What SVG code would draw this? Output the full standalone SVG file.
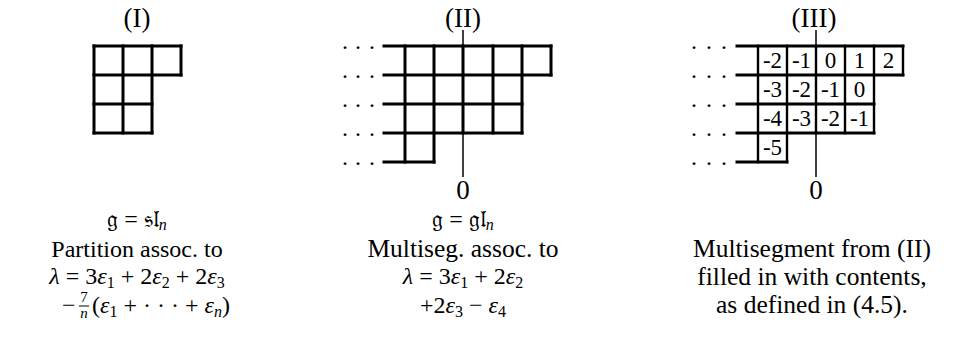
<svg xmlns="http://www.w3.org/2000/svg" width="963" height="348" viewBox="0 0 963 348">
<style>
.g{stroke:#000;stroke-width:3;stroke-linecap:square;fill:none}
.v3{stroke-width:2.4}
.axis{stroke:#000;stroke-width:1.5;fill:none}
.t{font-family:"Liberation Serif","DejaVu Serif",serif;font-size:24px;fill:#000}
.w{font-size:25.5px}
.h{font-size:27px}
.mid{text-anchor:middle}
.i{font-style:italic}
.s{font-size:16px}
.f{font-size:15px}
.c{font-family:"Liberation Serif",serif;font-size:23px;text-anchor:middle;fill:#000}
.d{font-family:"Liberation Serif",serif;font-size:24px;fill:#000}
</style>
<rect width="963" height="348" fill="#fff"/>

<g id="panel-1">
<text class="t h mid" x="137" y="27">(I)</text>
<g class="g">
<path d="M94 46H181M94 75H181M94 104H152M94 133H152"/>
<path d="M94 46V133M123 46V133M152 46V133M181 46V75"/>
</g>
<text class="t mid" x="137" y="227">𝔤 = 𝔰𝔩<tspan class="i s" dy="3">n</tspan></text>
<text class="t mid" x="137" y="257">Partition assoc. to</text>
<text class="t mid" x="137" y="284"><tspan class="i">λ</tspan> = 3<tspan class="i">ε</tspan><tspan class="s" dy="4">1</tspan><tspan dy="-4"> + 2</tspan><tspan class="i">ε</tspan><tspan class="s" dy="4">2</tspan><tspan dy="-4"> + 2</tspan><tspan class="i">ε</tspan><tspan class="s" dy="4">3</tspan></text>
<text class="t" x="62" y="313">−</text>
<text class="t f mid" x="84" y="302">7</text>
<line x1="79" y1="306" x2="89" y2="306" stroke="#000" stroke-width="1"/>
<text class="t f mid i" x="84" y="318">n</text>
<text class="t" x="92" y="313">(<tspan class="i">ε</tspan><tspan class="s" dy="4">1</tspan><tspan dy="-4"> + · · · + </tspan><tspan class="i">ε</tspan><tspan class="s i" dy="4">n</tspan><tspan dy="-4">)</tspan></text>
</g>

<g id="panel-2">
<text class="t h mid" x="463" y="27">(II)</text>
<line class="axis" x1="463" y1="30" x2="463" y2="177"/>
<g class="g">
<path d="M384 46H551M384 75H551M384 104H522M384 133H522M384 162H434"/>
<path d="M405 46V162M434 46V162M463 46V133M493 46V133M522 46V133M551 46V75"/>
</g>
<text class="d" x="341 354 368" y="55">···</text>
<text class="d" x="341 354 368" y="84">···</text>
<text class="d" x="341 354 368" y="113">···</text>
<text class="d" x="341 354 368" y="142">···</text>
<text class="d" x="341 354 368" y="171">···</text>
<text class="t h mid" x="463" y="199">0</text>
<text class="t mid" x="463" y="227">𝔤 = 𝔤𝔩<tspan class="i s" dy="3">n</tspan></text>
<text class="t w mid" x="463" y="257">Multiseg. assoc. to</text>
<text class="t mid" x="463" y="284"><tspan class="i">λ</tspan> = 3<tspan class="i">ε</tspan><tspan class="s" dy="4">1</tspan><tspan dy="-4"> + 2</tspan><tspan class="i">ε</tspan><tspan class="s" dy="4">2</tspan></text>
<text class="t mid" x="463" y="313">+2<tspan class="i">ε</tspan><tspan class="s" dy="4">3</tspan><tspan dy="-4"> − </tspan><tspan class="i">ε</tspan><tspan class="s" dy="4">4</tspan></text>
</g>

<g id="panel-3">
<text class="t h mid" x="814" y="27">(III)</text>
<line class="axis" x1="816" y1="30" x2="816" y2="177"/>
<g class="g">
<path d="M737 46H903M737 75H903M737 104H874M737 133H874M737 162H787"/>
</g>
<g class="g v3">
<path d="M758 46V162M787 46V162M816 46V133M845 46V133M874 46V133M903 46V75"/>
</g>
<text class="d" x="690 705 720" y="55">···</text>
<text class="d" x="690 705 720" y="84">···</text>
<text class="d" x="690 705 720" y="113">···</text>
<text class="d" x="690 705 720" y="142">···</text>
<text class="d" x="690 705 720" y="171">···</text>
<text class="c" x="772.5" y="68">-2</text>
<text class="c" x="801.5" y="68">-1</text>
<text class="c" x="830.5" y="68">0</text>
<text class="c" x="859.5" y="68">1</text>
<text class="c" x="888.5" y="68">2</text>
<text class="c" x="772.5" y="97">-3</text>
<text class="c" x="801.5" y="97">-2</text>
<text class="c" x="830.5" y="97">-1</text>
<text class="c" x="859.5" y="97">0</text>
<text class="c" x="772.5" y="126">-4</text>
<text class="c" x="801.5" y="126">-3</text>
<text class="c" x="830.5" y="126">-2</text>
<text class="c" x="859.5" y="126">-1</text>
<text class="c" x="772.5" y="155">-5</text>
<text class="t h mid" x="816" y="199">0</text>
<text class="t w mid" x="812" y="257">Multisegment from (II)</text>
<text class="t w mid" x="812" y="285">filled in with contents,</text>
<text class="t w mid" x="812" y="313">as defined in (4.5).</text>
</g>
</svg>
